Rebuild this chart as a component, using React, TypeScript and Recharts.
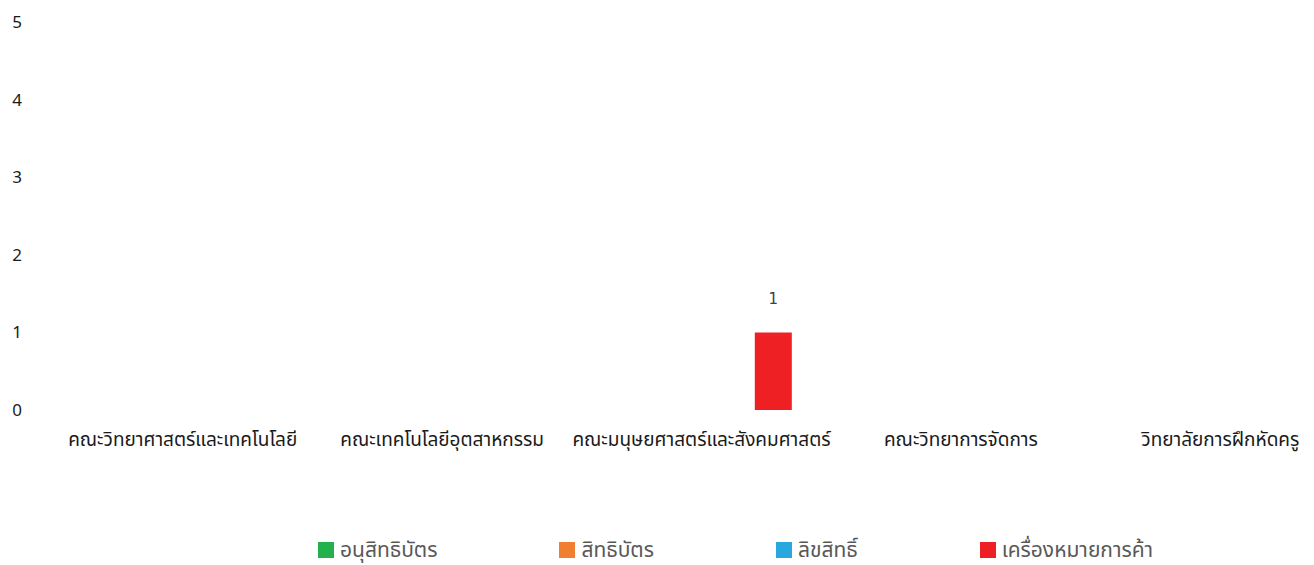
import React from 'react';
import { BarChart, Bar, XAxis, YAxis, Legend, LabelList } from 'recharts';

const categories = [
  'คณะวิทยาศาสตร์และเทคโนโลยี',
  'คณะเทคโนโลยีอุตสาหกรรม',
  'คณะมนุษยศาสตร์และสังคมศาสตร์',
  'คณะวิทยาการจัดการ',
  'วิทยาลัยการฝึกหัดครู',
];
const pettyPatent: (number | null)[] = [null, null, null, null, null];
const patent: (number | null)[] = [null, null, null, null, null];
const copyright: (number | null)[] = [null, null, null, null, null];
const trademark: (number | null)[] = [null, null, 1, null, null];
const yTicks = [0, 1, 2, 3, 4, 5];

const series = [
  { key: 'pettyPatent', name: 'อนุสิทธิบัตร', color: '#22B14C' },
  { key: 'patent', name: 'สิทธิบัตร', color: '#F07F2F' },
  { key: 'copyright', name: 'ลิขสิทธิ์', color: '#29A8E0' },
  { key: 'trademark', name: 'เครื่องหมายการค้า', color: '#EE2024' },
];

const data = categories.map((c, i) => ({
  name: c,
  pettyPatent: pettyPatent[i],
  patent: patent[i],
  copyright: copyright[i],
  trademark: trademark[i],
}));

const FONT = "Tahoma, 'Noto Sans Thai', 'Noto Sans', sans-serif";

const renderLegend = () => (
  <div style={{ display: 'flex', paddingLeft: 318, alignItems: 'center', height: 20 }}>
    {series.map((s) => (
      <div key={s.key} style={{ display: 'flex', alignItems: 'center', marginRight: 122 }}>
        <span style={{ display: 'inline-block', width: 16, height: 16, background: s.color, marginRight: 6 }} />
        <span style={{ fontFamily: FONT, fontSize: 21, color: '#595959', whiteSpace: 'nowrap' }}>{s.name}</span>
      </div>
    ))}
  </div>
);

export default function App() {
  return (
    <div style={{ position: 'absolute', left: 0, top: 0, width: 1314, height: 565, overflow: 'hidden', background: '#fff' }}>
      <BarChart
        width={1350}
        height={565}
        data={data}
        margin={{ top: 22, right: 0, bottom: 5, left: 0 }}
        barSize={37}
        barGap={11}
      >
        <XAxis
          dataKey="name"
          axisLine={false}
          tickLine={false}
          height={130}
          tickMargin={17}
          interval={0}
          tick={{ fontFamily: FONT, fontSize: 19, fill: '#1a1a1a' }}
        />
        <YAxis
          domain={[0, 5]}
          ticks={yTicks}
          axisLine={false}
          tickLine={false}
          width={53}
          tickMargin={25}
          tick={{ fontFamily: FONT, fontSize: 17, fill: '#1a1a1a' }}
        />
        <Legend verticalAlign="bottom" content={renderLegend} wrapperStyle={{ left: 0, width: 1314 }} />
        {series.map((s) => (
          <Bar key={s.key} dataKey={s.key} name={s.name} fill={s.color} isAnimationActive={false}>
            <LabelList dataKey={s.key} position="top" offset={28} fill="#404040" fontSize={15} fontFamily="'DejaVu Sans'" />
          </Bar>
        ))}
      </BarChart>
    </div>
  );
}
